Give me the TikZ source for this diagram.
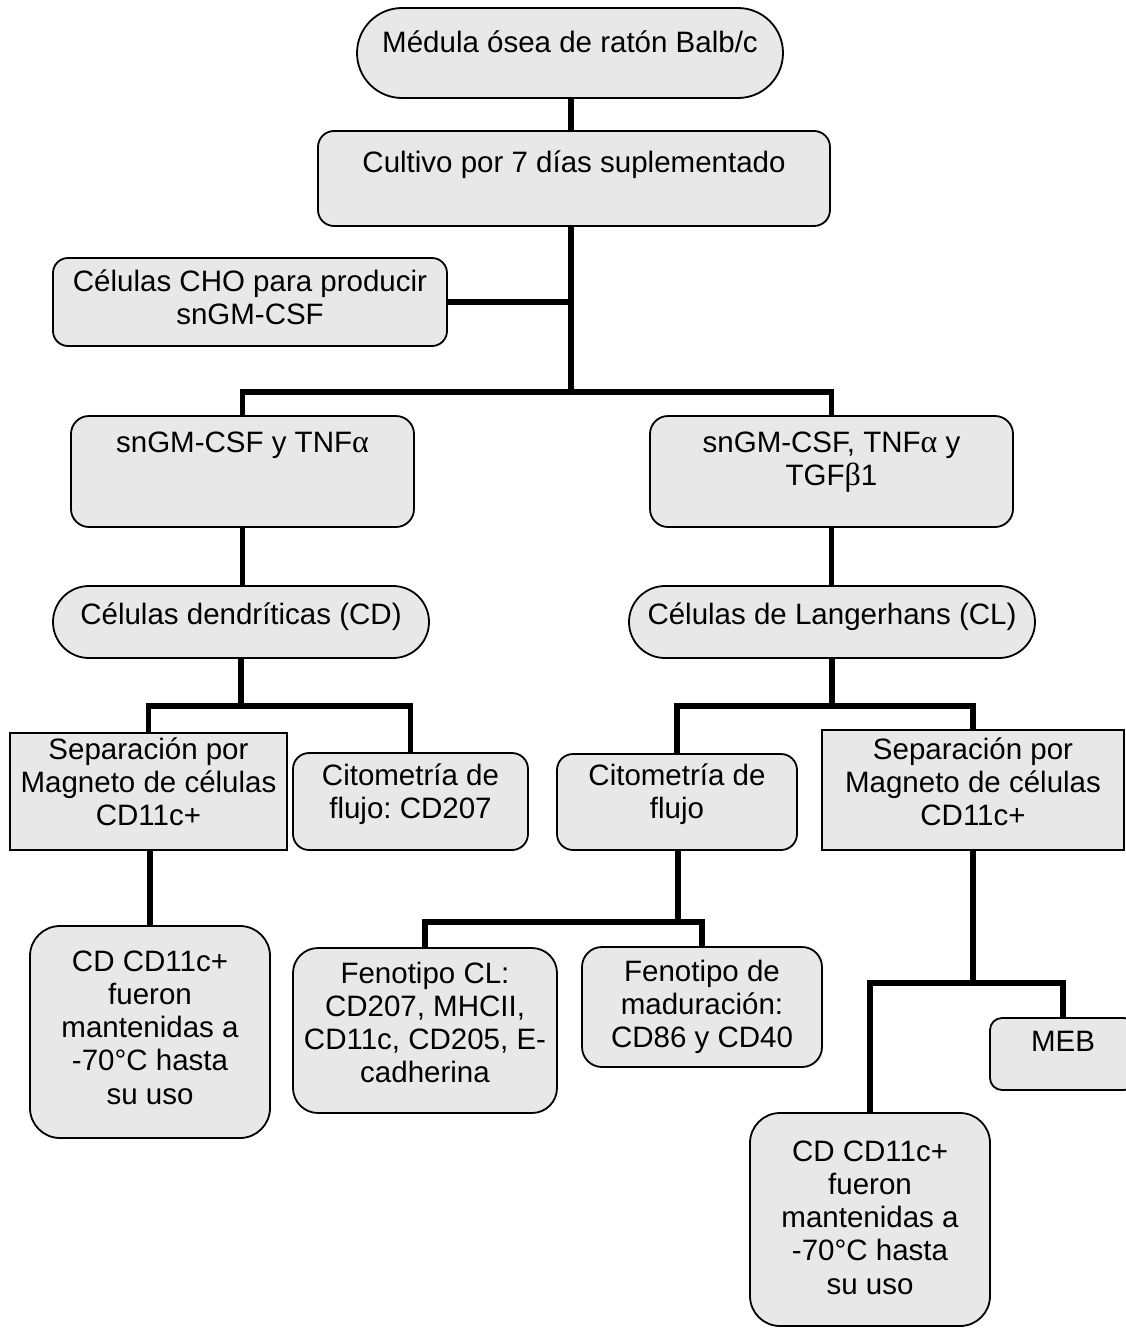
\documentclass[tikz,border=0pt]{standalone}
\usepackage{fontspec}
\setmainfont{Liberation Sans}
\newfontfamily\grk{Liberation Serif}
\definecolor{boxgray}{HTML}{E8E8E8}
\frenchspacing
\begin{document}
\begin{tikzpicture}[x=1pt,y=-1pt,
  rbox/.style={draw=black, line width=1.8pt, fill=boxgray, inner sep=0pt, rounded corners=#1},
  sbox/.style={draw=black, line width=1.8pt, fill=boxgray, inner sep=0pt},
  txt/.style={font=\fontsize{29.5}{33.3}\selectfont\frenchspacing, align=center, inner sep=0pt, anchor=base},
  conn/.style={line width=5.5pt, draw=black}]
\useasboundingbox (0,0) rectangle (1126,1328);
\clip (0,0) rectangle (1126,1328);
\fill[white] (0,0) rectangle (1126,1328);

% boxes
\node[rbox=45pt, minimum width=426pt, minimum height=90pt] (med) at (570,53) {};
\node[rbox=16pt, minimum width=512pt, minimum height=95pt] (cul) at (574,178.5) {};
\node[rbox=15pt, minimum width=394pt, minimum height=88pt] (cho) at (250,302) {};
\node[rbox=18pt, minimum width=343pt, minimum height=111pt] (gL) at (242.5,471.5) {};
\node[rbox=18pt, minimum width=363pt, minimum height=111pt] (gR) at (831.5,471.5) {};
\node[rbox=36pt, minimum width=376pt, minimum height=72pt] (cd) at (241,622) {};
\node[rbox=36pt, minimum width=406pt, minimum height=72pt] (cl) at (832,622) {};
\node[sbox, minimum width=277pt, minimum height=117pt] (sepL) at (148.5,791.5) {};
\node[rbox=16pt, minimum width=235pt, minimum height=97pt] (citL) at (410.5,801.5) {};
\node[rbox=16pt, minimum width=240pt, minimum height=96pt] (citR) at (677,802) {};
\node[sbox, minimum width=302pt, minimum height=120pt] (sepR) at (973,790) {};
\node[rbox=30pt, minimum width=240pt, minimum height=212pt] (cdL) at (150,1032) {};
\node[rbox=25pt, minimum width=264pt, minimum height=165pt] (fenCL) at (425,1030.5) {};
\node[rbox=20pt, minimum width=240pt, minimum height=120pt] (fenMad) at (702,1007) {};
\node[rbox=12pt, minimum width=146pt, minimum height=72pt] (meb) at (1063,1054) {};
\node[rbox=30pt, minimum width=240pt, minimum height=213pt] (cdR) at (870,1219.5) {};

% texts (anchor = baseline of the last line)
\node[txt] (medT) at (570,52) {Médula ósea de ratón Balb/c};
\node[txt] (culT) at (574,172) {Cultivo por 7 días suplementado};
\node[txt] (choT) at (250,324.3) {Células CHO para producir\\snGM-CSF};
\node[txt] (gLT) at (242.5,452) {snGM-CSF y TNF{\grk\fontsize{32}{33.3}\selectfont α}};
\node[txt] (gRT) at (831.5,485.3) {snGM-CSF, TNF{\grk\fontsize{32}{33.3}\selectfont α} y\\TGF{\grk\fontsize{32}{33.3}\selectfont β}1};
\node[txt] (cdT) at (241,624) {Células dendríticas (CD)};
\node[txt] (clT) at (832,624) {Células de Langerhans (CL)};
\node[txt] (sepLT) at (148.5,825.6) {Separación por\\Magneto de células\\CD11c+};
\node[txt] (citLT) at (410.5,818.3) {Citometría de\\flujo: CD207};
\node[txt] (citRT) at (677,818.3) {Citometría de\\flujo};
\node[txt] (sepRT) at (973,825.6) {Separación por\\Magneto de células\\CD11c+};
\node[txt] (cdLT) at (150,1104.2) {CD CD11c+\\fueron\\mantenidas a\\-70°C hasta\\su uso};
\node[txt] (fenCLT) at (425,1082.9) {Fenotipo CL:\\CD207, MHCII,\\CD11c, CD205, E-\\cadherina};
\node[txt] (fenMadT) at (702,1047.6) {Fenotipo de\\maduración:\\CD86 y CD40};
\node[txt] (mebT) at (1063,1051) {MEB};
\node[txt] (cdRT) at (870,1294.2) {CD CD11c+\\fueron\\mantenidas a\\-70°C hasta\\su uso};

% connectors
\coordinate (s1) at (571,392);
\coordinate (s2) at (241,706);
\coordinate (s3) at (832,706);
\coordinate (s4) at (678,922);
\coordinate (s5) at (973,983);
\draw[conn] (med.south -| s1) -- (cul.north -| s1);
\draw[conn] (cul.south -| s1) -- (s1);
\draw[conn] (cho.east) -- (cho.east -| s1);
\draw[conn] (gL.north) |- (s1) -| (gR.north);
\draw[conn] (gL.south) -- (gL.south |- cd.north);
\draw[conn] (gR.south) -- (gR.south |- cl.north);
\draw[conn] (cd.south) -- (s2);
\draw[conn] (sepL.north) |- (s2) -| (citL.north);
\draw[conn] (cl.south) -- (s3);
\draw[conn] (citR.north) |- (s3) -| (sepR.north);
\draw[conn] (sepL.south -| cdL.north) -- (cdL.north);
\draw[conn] (citR.south -| s4) -- (s4);
\draw[conn] (fenCL.north) |- (s4) -| (fenMad.north);
\draw[conn] (sepR.south) -- (s5);
\draw[conn] (cdR.north) |- (s5) -| (meb.north);
\end{tikzpicture}
\end{document}
